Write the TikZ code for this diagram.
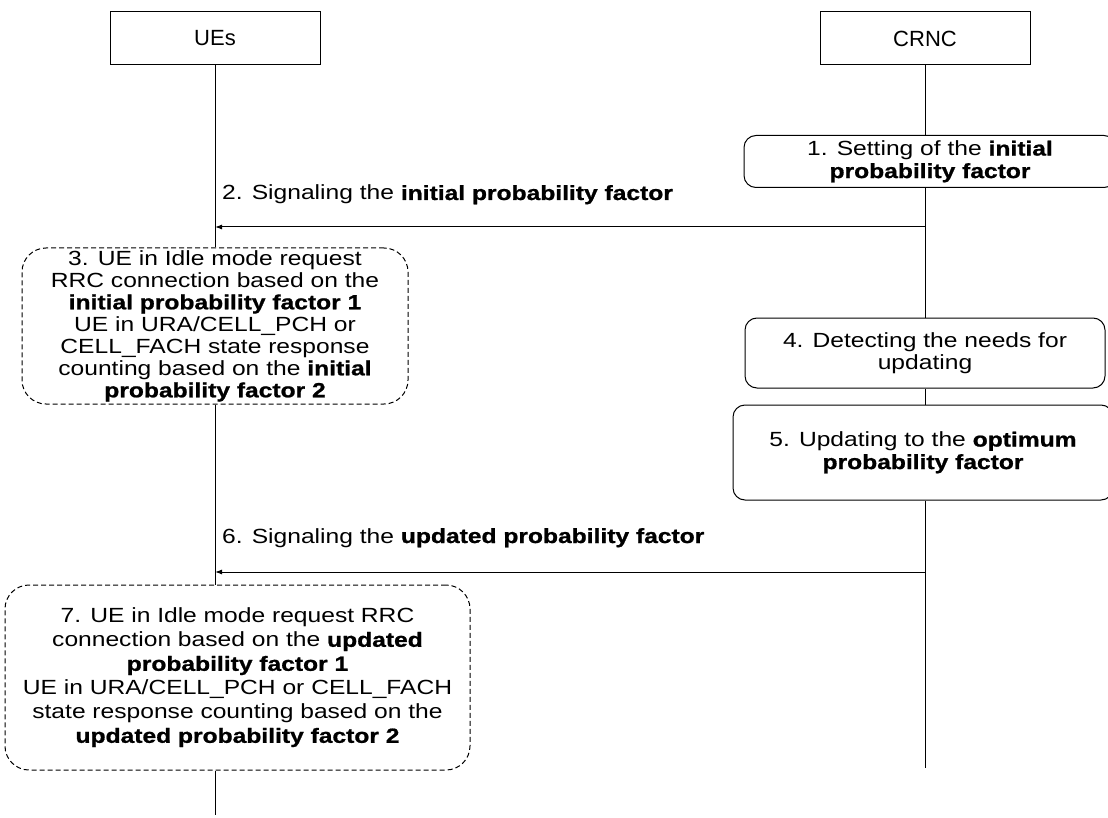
\documentclass[tikz,border=0pt]{standalone}
\usepackage{fontspec}
\setmainfont{Liberation Sans}[FakeStretch=1.2,BoldFeatures={FakeBold=1}]
\newfontfamily\hdrfont{Liberation Sans}
\usetikzlibrary{arrows.meta}
\begin{document}
\begin{tikzpicture}[x=1pt,y=-1pt,
  font=\fontsize{20.5}{22.5}\selectfont,
  actor/.style={draw,line width=1pt,minimum width=210pt,minimum height=53pt,inner sep=0pt,font=\hdrfont\fontsize{22}{26}\selectfont},
  proc/.style={draw,line width=1pt,rounded corners=12pt,align=center,inner sep=0pt},
  ueproc/.style={draw,dash pattern=on 5pt off 3pt,line width=1pt,rounded corners=24pt,align=center,inner sep=0pt},
  life/.style={line width=1pt},
  msg/.style={line width=1pt,-{Latex[length=7pt,width=5pt]}},
  lbl/.style={anchor=base west,inner sep=0pt}]
\useasboundingbox (0,0) rectangle (1108,818);
% actors
\node[actor] (ue) at (215,38.5) {UEs};
\node[actor] (crnc) at (925,38.5) {CRNC};
% CRNC steps
\node[proc,minimum width=372pt,minimum height=52pt] (s1) at (930,161.5)
  {1. Setting of the \textbf{initial}\\\textbf{probability factor}};
\node[proc,minimum width=360pt,minimum height=70pt] (s4) at (925,353)
  {4. Detecting the needs for\\updating};
\node[proc,minimum width=380pt,minimum height=95pt] (s5) at (923,452.5)
  {5. Updating to the \textbf{optimum}\\\textbf{probability factor}};
% UE steps
\node[ueproc,minimum width=386pt,minimum height=156pt,font=\fontsize{20.5}{22}\selectfont] (s3) at (215,326)
  {3. UE in Idle mode request\\RRC connection based on the\\\textbf{initial probability factor 1}\\UE in URA/CELL\_PCH or\\CELL\_FACH state response\\counting based on the \textbf{initial}\\\textbf{probability factor 2}};
\node[ueproc,minimum width=465pt,minimum height=185pt,font=\fontsize{20.5}{24}\selectfont] (s7) at (237.5,677.5)
  {7. UE in Idle mode request RRC\\connection based on the \textbf{updated}\\\textbf{probability factor 1}\\UE in URA/CELL\_PCH or CELL\_FACH\\state response counting based on the\\\textbf{updated probability factor 2}};
% lifeline ends and message ends
\coordinate (ueend) at (215,815);
\coordinate (crncend) at (925,768);
\coordinate (a2s) at (925,227);
\coordinate (a2e) at (215,227);
\coordinate (a6s) at (925,572);
\coordinate (a6e) at (215,572);
% lifelines
\draw[life] (ue.south) -- (ue.south |- s3.north);
\draw[life] (ue.south |- s3.south) -- (ue.south |- s7.north);
\draw[life] (ue.south |- s7.south) -- (ueend);
\draw[life] (crnc.south) -- (crnc.south |- s1.north);
\draw[life] (crnc.south |- s1.south) -- (crnc.south |- s4.north);
\draw[life] (crnc.south |- s4.south) -- (crnc.south |- s5.north);
\draw[life] (crnc.south |- s5.south) -- (crncend);
% messages
\draw[msg] (a2s) -- (a2e);
\node[lbl] (l2) at (222,200) {2. Signaling the \textbf{initial probability factor}};
\draw[msg] (a6s) -- (a6e);
\node[lbl] (l6) at (222,543) {6. Signaling the \textbf{updated probability factor}};
\end{tikzpicture}
\end{document}
